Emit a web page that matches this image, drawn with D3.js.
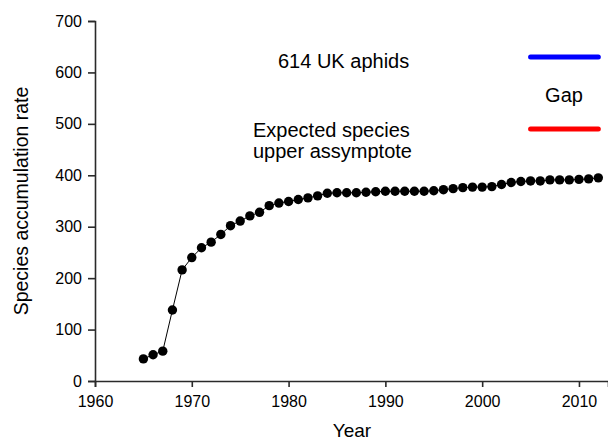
<!DOCTYPE html>
<html><head><meta charset="utf-8">
<script src="https://cdn.jsdelivr.net/npm/d3@7"></script>
<style>body{margin:0;background:#fff;} text{font-family:"Liberation Sans",Arial,sans-serif;}</style>
</head><body><svg id="c" width="608" height="440"></svg>
<script>
const years = d3.range(1965, 2013);
const values = [43,51,58,138,216,240,259,270,285,302,311,321,328,341,346,349,353,356,360,365,366,366,366,367,368,369,369,369,369,369,370,372,374,376,377,377,378,382,386,388,389,389,391,391,391,392,393,395];
const xTicks = [1960,1970,1980,1990,2000,2010];
const yTicks = [0,100,200,300,400,500,600,700];
const refYears = [2005, 2012];
const aphids = 630, asymptote = 490;

const svg = d3.select("#c");
const x = d3.scaleLinear().domain([1960, 2013]).range([95, 608]);
const y = d3.scaleLinear().domain([0, 700]).range([381, 21]);
const data = years.map((yr,i)=>({yr, v: values[i]}));

const xa = svg.append("g").attr("transform","translate(0,381)")
  .call(d3.axisBottom(x).tickValues(xTicks).tickFormat(d3.format("d")).tickSizeOuter(0).tickSize(6).tickPadding(9));
const ya = svg.append("g").attr("transform","translate(95,0)")
  .call(d3.axisLeft(y).tickValues(yTicks).tickSizeOuter(0).tickSize(7).tickPadding(6));
[xa,ya].forEach(a=>{
  a.selectAll("path,line").attr("stroke","#2a2a2a").attr("stroke-width",1.6);
  a.selectAll("text").attr("font-size",16).attr("fill","#000").attr("font-family","Liberation Sans, Arial, sans-serif");
});

svg.append("path").datum(data)
  .attr("d", d3.line().x(d=>x(d.yr)).y(d=>y(d.v)))
  .attr("fill","none").attr("stroke","#000").attr("stroke-width",1);
svg.selectAll("circle.p").data(data).enter().append("circle")
  .attr("cx",d=>x(d.yr)).attr("cy",d=>y(d.v)).attr("r",4.7).attr("fill","#000");

svg.append("line").attr("x1",x(refYears[0])).attr("x2",x(refYears[1])).attr("y1",y(aphids)).attr("y2",y(aphids))
  .attr("stroke","#0000ff").attr("stroke-width",5).attr("stroke-linecap","round");
svg.append("line").attr("x1",x(refYears[0])).attr("x2",x(refYears[1])).attr("y1",y(asymptote)).attr("y2",y(asymptote))
  .attr("stroke","#ff0000").attr("stroke-width",5).attr("stroke-linecap","round");

const t = (tx,ty,s,anchor)=>svg.append("text").attr("x",tx).attr("y",ty).attr("font-size",20).attr("text-anchor",anchor||"start").text(s);
t(278,68,"614 UK aphids");
t(564,102,"Gap","middle");
t(253,137,"Expected species");
t(253,158,"upper assymptote");

svg.append("text").attr("x",352).attr("y",437).attr("text-anchor","middle").attr("font-size",19).text("Year");
svg.append("text").attr("transform","translate(28,201) rotate(-90)").attr("text-anchor","middle").attr("font-size",19.5).text("Species accumulation rate");
</script></body></html>
